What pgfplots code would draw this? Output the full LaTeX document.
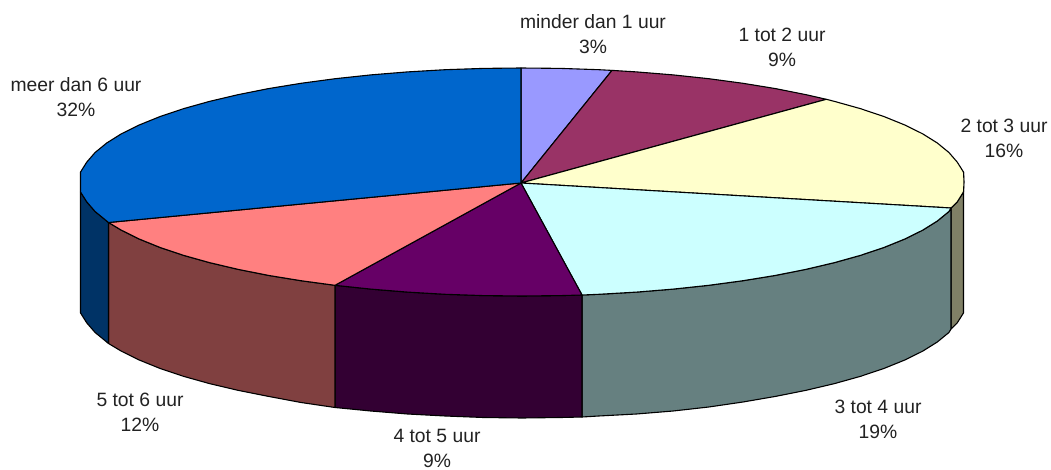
\documentclass[border=0pt]{standalone}
\usepackage{pgfplots}
\pgfplotsset{compat=1.18}
\usepackage{fontspec}
\setmainfont{Liberation Sans}
\definecolor{c1}{HTML}{9999FF}
\definecolor{c2}{HTML}{993366}
\definecolor{c3}{HTML}{FFFFCC}
\definecolor{c4}{HTML}{CCFFFF}
\definecolor{c5}{HTML}{660066}
\definecolor{c6}{HTML}{FF8080}
\definecolor{c7}{HTML}{0066CC}
\definecolor{s3}{HTML}{808066}
\definecolor{s4}{HTML}{668080}
\definecolor{s5}{HTML}{330033}
\definecolor{s6}{HTML}{804040}
\definecolor{s7}{HTML}{003366}
\definecolor{txt}{HTML}{222222}
\tikzset{lbl/.style={font=\fontsize{19.3}{25}\selectfont, align=center, text=txt, inner sep=0pt}}
\begin{document}
\begin{tikzpicture}
\path (0,0) rectangle (1051pt,470pt);
\begin{axis}[
  at={(0,0)}, anchor=south west,
  scale only axis, width=1051pt, height=470pt,
  xmin=0, xmax=1051, ymin=0, ymax=470, y dir=reverse,
  hide axis, clip=false,
  every axis plot/.append style={draw=black, line width=1.1pt, line join=round}
]
% side walls
\addplot[fill=s3] coordinates {(963.5,172)(963.5,191.9)(957.3,201.8)(951,208)(951,329)(957.3,322.8)(963.5,312.9)} -- cycle;
\addplot[fill=s4] coordinates {(951,208)(948.9,211.5)(937.3,221)(922.6,230.2)(904.8,239)(884.1,247.4)(860.6,255.3)(834.5,262.6)(806.1,269.3)(775.5,275.4)(743,280.7)(708.8,285.3)(673.2,289.1)(636.4,292.1)(598.7,294.3)(582,295)(582,417)(598.7,416)(636.4,414)(673.2,411)(708.8,407)(743,402)(775.5,396.4)(806.1,390.3)(834.5,383.6)(860.6,376.3)(884.1,368.4)(904.8,360)(922.6,351.2)(937.3,342)(948.9,332.5)(951,329)} -- cycle;
\addplot[fill=s5] coordinates {(582,295)(560.5,295.6)(522,296)(483.5,295.6)(445.3,294.3)(407.6,292.1)(370.8,289.1)(335,285.3)(335,407.5)(370.8,411)(407.6,414)(445.3,416)(483.5,417.5)(522,418)(560.5,417.5)(582,417)} -- cycle;
\addplot[fill=s6] coordinates {(335,285.3)(301,280.7)(268.5,275.4)(237.9,269.3)(209.5,262.6)(183.4,255.3)(159.9,247.4)(139.2,239)(121.4,230.2)(108.5,222.5)(108.5,343.5)(121.4,351.2)(139.2,360)(159.9,368.4)(183.4,376.3)(209.5,383.6)(237.9,390.3)(268.5,396.4)(301,402.5)(335,407.5)} -- cycle;
\addplot[fill=s7] coordinates {(108.5,222.5)(106.7,221)(95.1,211.5)(86.7,201.8)(80.5,191.9)(80.5,312.9)(86.7,322.8)(95.1,332.5)(106.7,342)(108.5,343.5)} -- cycle;
% top wedges
\addplot[fill=c1] coordinates {(521,183)(521,68)(560.5,68.4)(598.7,69.7)(612,70.4)} -- cycle;
\addplot[fill=c2] coordinates {(521,183)(612,70.4)(636.4,71.9)(673.2,74.9)(708.8,78.7)(743,83.3)(775.5,88.6)(806.1,94.7)(826.3,99.3)} -- cycle;
\addplot[fill=c3] coordinates {(521,183)(826.3,99.3)(834.5,101.4)(860.6,108.7)(884.1,116.6)(904.8,125)(922.6,133.8)(937.3,143)(948.9,152.5)(957.3,162.2)(963.5,172.1)(964,182)(963.5,191.9)(957.3,201.8)(951,208)} -- cycle;
\addplot[fill=c4] coordinates {(521,183)(951,208)(948.9,211.5)(937.3,221)(922.6,230.2)(904.8,239)(884.1,247.4)(860.6,255.3)(834.5,262.6)(806.1,269.3)(775.5,275.4)(743,280.7)(708.8,285.3)(673.2,289.1)(636.4,292.1)(598.7,294.3)(582,295)} -- cycle;
\addplot[fill=c5] coordinates {(521,183)(582,295)(560.5,295.6)(522,296)(483.5,295.6)(445.3,294.3)(407.6,292.1)(370.8,289.1)(335,285.3)} -- cycle;
\addplot[fill=c6] coordinates {(521,183)(335,285.3)(301,280.7)(268.5,275.4)(237.9,269.3)(209.5,262.6)(183.4,255.3)(159.9,247.4)(139.2,239)(121.4,230.2)(108.5,222.5)} -- cycle;
\addplot[fill=c7] coordinates {(521,183)(108.5,222.5)(106.7,221)(95.1,211.5)(86.7,201.8)(80.5,191.9)(80.5,172.1)(86.7,162.2)(95.1,152.5)(106.7,143)(121.4,133.8)(139.2,125)(159.9,116.6)(183.4,108.7)(209.5,101.4)(237.9,94.7)(268.5,88.6)(301,83.3)(335.2,78.7)(370.8,74.9)(407.6,71.9)(445.3,69.7)(483.5,68.4)(521,68)} -- cycle;
% labels
\node[lbl] at (axis cs:593,34.5) {minder dan 1 uur\\3\%};
\node[lbl] at (axis cs:782,47.5) {1 tot 2 uur\\9\%};
\node[lbl] at (axis cs:1004,138) {2 tot 3 uur\\16\%};
\node[lbl] at (axis cs:878,419.5) {3 tot 4 uur\\19\%};
\node[lbl] at (axis cs:437,448.5) {4 tot 5 uur\\9\%};
\node[lbl] at (axis cs:140,412.5) {5 tot 6 uur\\12\%};
\node[lbl] at (axis cs:76,97.5) {meer dan 6 uur\\32\%};
\end{axis}
\end{tikzpicture}
\end{document}
